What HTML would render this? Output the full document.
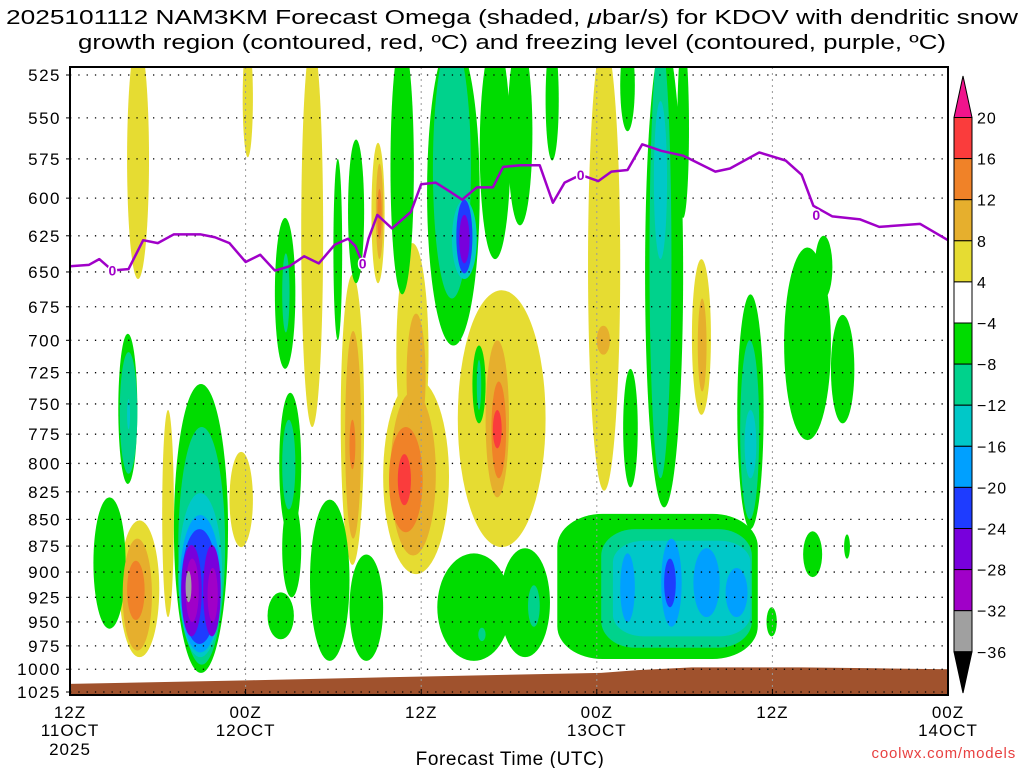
<!DOCTYPE html>
<html><head><meta charset="utf-8"><style>
body{margin:0;background:#fff;}
svg{display:block;font-family:"Liberation Sans","DejaVu Sans",sans-serif;}
</style></head><body>
<svg id="chart" width="1024" height="768" viewBox="0 0 1024 768">
<text x="6" y="24" font-size="20" textLength="1012" lengthAdjust="spacingAndGlyphs">2025101112 NAM3KM Forecast Omega (shaded, <tspan font-style="italic">μ</tspan>bar/s) for KDOV with dendritic snow</text>
<text x="78" y="49" font-size="20" textLength="868" lengthAdjust="spacingAndGlyphs">growth region (contoured, red, ºC) and freezing level (contoured, purple, ºC)</text>
<g id="plot"></g>
<text x="510" y="765" text-anchor="middle" font-size="19" letter-spacing="0.6">Forecast Time (UTC)</text>
<text x="1016" y="758" text-anchor="end" font-size="15" fill="#e84040" letter-spacing="0.8">coolwx.com/models</text>
</svg>
<script>
const levels=[525,550,575,600,625,650,675,700,725,750,775,800,825,850,875,900,925,950,975,1000,1025];
const xTickHours=[0,12,24,36,48,60];
const xTickLine1=["12Z","00Z","12Z","00Z","12Z","00Z"];
const xTickLine2=["11OCT","12OCT","","13OCT","","14OCT"];
const cbLevels=[20,16,12,8,4,-4,-8,-12,-16,-20,-24,-28,-32,-36];
// features: time start/end (h from 12Z 11 Oct), top/bottom pressure (mb), omega value
const fT0=[3.9,3.3,1.6,3.4,3.9,3.4,3.6,3.9,6.3,7.1,7.4,7.4,7.5,7.6,7.6,9.1,7.9,9.4,7.9,10.9,11.8,14.0,14.5,15.8,14.3,14.5,14.5,13.5,16.4,19.1,18.0,19.0,20.6,20.9,21.0,21.9,18.5,18.8,19.1,21.4,21.9,21.8,22.4,24.4,24.8,26.1,26.4,26.6,28.0,27.5,27.8,26.5,28.4,28.8,28.9,25.1,27.9,29.9,32.5,35.4,36.0,37.6,39.3,39.6,39.9,41.5,42.5,42.9,45.6,45.8,46.1,37.8,33.3,36.3,37.1,37.6,40.4,42.6,44.8,40.6,29.4,31.3,48.8,50.9,52.0,50.1,52.9,47.6,22.3,23.0];
const fT1=[5.4,4.6,3.8,4.6,4.1,6.1,5.6,5.1,7.1,10.8,10.6,10.4,10.3,10.1,9.0,10.3,8.8,10.1,8.3,12.5,12.5,15.4,15.0,17.3,15.8,15.4,15.8,15.3,19.1,21.4,18.6,20.1,21.5,21.4,21.3,23.5,20.1,19.9,19.5,25.9,25.0,24.1,23.3,28.0,27.4,27.8,27.5,27.3,30.1,28.4,28.1,32.5,30.0,29.8,29.5,30.1,28.4,31.6,33.4,37.6,36.9,38.6,41.9,41.1,40.8,42.3,43.8,43.5,47.4,47.1,46.9,38.8,47.0,46.6,46.5,38.6,41.8,44.4,46.3,41.4,32.8,32.1,52.0,52.1,53.6,51.4,53.3,48.3,24.5,24.3];
const fP0=[505,695,830,709,746,851,868,889,755,734,769,826,846,859,874,874,887,896,899,790,505,613,637,505,741,763,832,920,832,883,575,563,565,578,594,505,652,693,763,730,740,769,792,505,505,601,601,611,505,704,715,663,700,732,755,882,956,505,505,505,689,505,505,505,540,505,641,669,666,700,755,722,845,859,870,882,868,877,896,887,877,913,633,625,681,861,864,935,630,680];
const fP1=[655,818,957,809,771,987,980,948,945,1004,995,987,982,973,965,965,950,950,930,876,574,722,694,769,866,841,925,968,991,991,700,658,658,641,627,666,893,868,805,902,884,862,837,704,669,655,651,644,641,766,755,876,830,813,787,991,970,618,576,824,711,558,839,813,641,613,759,740,859,850,813,821,989,977,965,950,955,945,945,935,987,955,780,669,766,905,887,965,800,780];
const fVal=[5,-6,-6,-10,-14,5,10,14,5,-6,-10,-14,-18,-22,-26,-26,-30,-30,-34,5,5,-6,-10,5,-6,-10,-6,-6,-6,-6,-6,-6,5,10,14,-6,5,10,14,5,10,14,18,-6,-10,-14,-22,-26,-6,-6,-10,5,10,14,18,-6,-10,-6,-6,5,10,-6,-6,-10,-14,-6,5,10,-6,-10,-14,-6,-6,-10,-14,-18,-18,-18,-18,-22,-6,-10,-6,-6,-6,-6,-6,-6,5,10];
const fRound=fVal.map((v,i)=>(i===72||i===73||i===74)?0.45:1);
// freezing level
const flTime=[0,1.3,2.0,2.9,4.0,5.0,6.0,7.1,8.9,9.9,10.9,12.0,13.0,14.0,15.0,16.0,17.0,18.1,19.0,19.5,20.0,20.4,21.0,22.0,23.3,24.0,25.0,26.0,26.8,27.8,28.9,29.6,30.8,32.1,33.0,33.8,34.9,36.1,37.0,38.1,39.1,40.4,41.9,44.1,45.1,47.1,48.9,50.0,50.8,52.1,54.0,55.3,58.1,60];
const flPres=[646,645,641,649,648,628,630,624,624,626,630,643,638,649,646,639,644,631,627,632,644,627,611,620,609,591,590,596,601,593,593,580,579,579,603,590,585,589,583,582,566,570,573,583,581,571,576,585,605,612,614,619,617,628];
const flLabelTime=[2.9,20.0,34.9,51.0];
const flLabelPres=[649,644,585,611];
// ground surface
const gTime=[0,12.5,23.8,36.3,38.8,42.5,50,55,60];
const gPres=[1016,1012,1008,1004,1001,998,998,999,1000];

const X0=70,X1=948,Y0=75,Y1=692,HSPAN=60;
const lnTop=Math.log(525),lnBot=Math.log(1025);
function xS(h){return X0+h*(X1-X0)/HSPAN;}
function yS(p){return Y0+(Math.log(p)-lnTop)/(lnBot-lnTop)*(Y1-Y0);}
function col(v){
 if(v>20)return"#f0148c";if(v>16)return"#fa3c3c";if(v>12)return"#f08228";if(v>8)return"#e6af2d";if(v>4)return"#e6dc32";
 if(v>-4)return"#ffffff";if(v>-8)return"#00dc00";if(v>-12)return"#00d28c";if(v>-16)return"#00c8c8";if(v>-20)return"#00a0ff";
 if(v>-24)return"#1e3cff";if(v>-28)return"#7800dc";if(v>-32)return"#a000c8";if(v>-36)return"#a0a0a0";return"#000";}
const NS="http://www.w3.org/2000/svg";
const plot=document.getElementById('plot');
function mk(t,a,parent){const e=document.createElementNS(NS,t);for(const k in a)e.setAttribute(k,a[k]);(parent||plot).appendChild(e);return e;}
const clip=mk('clipPath',{id:'pc'});mk('rect',{x:X0,y:67,width:X1-X0,height:Y1-67+2},clip);
const shade=mk('g',{'clip-path':'url(#pc)'});


const order=fVal.map((v,i)=>i).sort((a,b)=>Math.abs(fVal[a])-Math.abs(fVal[b]));
order.forEach(i=>{
 const x0=xS(fT0[i]),x1=xS(fT1[i]),y0=yS(fP0[i]),y1=yS(fP1[i]);
 const w=x1-x0,h=y1-y0,r=fRound[i];
 const e=mk('rect',{x:x0,y:y0,width:w,height:h,rx:w/2*r,ry:h/2*r,fill:col(fVal[i])},shade);
 
 
});
// ground
let gd='M'+xS(gTime[0])+','+(Y1+2);
gTime.forEach((t,i)=>{gd+=' L'+xS(t)+','+yS(gPres[i]);});
gd+=' L'+xS(HSPAN)+','+(Y1+2)+' Z';
const gr=mk('path',{d:gd,fill:'#a0522d'});


// grid
levels.forEach(p=>{
 const l=mk('line',{x1:X0,x2:X1,y1:yS(p),y2:yS(p),stroke:'#000','stroke-width':1.3,'stroke-dasharray':'1.3 7'});
 
 
 const t=mk('text',{x:61,y:yS(p)+6,'text-anchor':'end','font-size':17,fill:'#000','letter-spacing':1.5});
 t.textContent=p;
 
 
 mk('line',{x1:X0-4,x2:X0,y1:yS(p),y2:yS(p),stroke:'#000'});
});
xTickHours.forEach((h,i)=>{
 if(h>0&&h<HSPAN){const v=mk('line',{x1:xS(h),x2:xS(h),y1:67,y2:Y1,stroke:'#999','stroke-width':1,'stroke-dasharray':'2 4'});
 
 }
 mk('line',{x1:xS(h),x2:xS(h),y1:Y1+3,y2:Y1-3,stroke:'#000'});
 const t1=mk('text',{x:xS(h),y:718,'text-anchor':'middle','font-size':17,'letter-spacing':1});
 t1.textContent=xTickLine1[i];
 
 
 if(xTickLine2[i]){const t2=mk('text',{x:xS(h),y:736,'text-anchor':'middle','font-size':17,'letter-spacing':1});t2.textContent=xTickLine2[i];
 
 }
});
const ty=mk('text',{x:xS(0),y:755,'text-anchor':'middle','font-size':17,'letter-spacing':1});ty.textContent="2025";


// freezing level
const fl=mk('polyline',{points:flTime.map((t,i)=>xS(t)+','+yS(flPres[i])).join(' '),fill:'none',stroke:'#a000c8','stroke-width':2.5,'stroke-linejoin':'round'});


flLabelTime.forEach((t,i)=>{
 const lb=mk('text',{x:xS(t),y:yS(flLabelPres[i])+5,'text-anchor':'middle','font-size':14,'font-weight':'bold',fill:'#a000c8',stroke:'#fff','stroke-width':3,'paint-order':'stroke'});
 lb.textContent='0';
 
 
});
// frame
const fr=mk('rect',{x:X0,y:67,width:X1-X0,height:Y1+3-67,fill:'none',stroke:'#000','stroke-width':2});


// colorbar
const cb=mk('g',{});


const cbX=954,cbW=18,cbTop=117.5,cbStep=41.1;
const up=mk('polygon',{points:`${cbX},${cbTop} ${cbX+cbW},${cbTop} ${cbX+cbW/2},76`,fill:col(24),stroke:'#000'},cb);


for(let i=0;i<cbLevels.length-1;i++){
 const mid=(cbLevels[i]+cbLevels[i+1])/2;
 const r=mk('rect',{x:cbX,y:cbTop+i*cbStep,width:cbW,height:cbStep,fill:col(mid-0.01),stroke:'#000','stroke-width':1},cb);
 
 
}
const bot=cbTop+(cbLevels.length-1)*cbStep;
const dn=mk('polygon',{points:`${cbX},${bot} ${cbX+cbW},${bot} ${cbX+cbW/2},693`,fill:'#000',stroke:'#000'},cb);


cbLevels.forEach((v,i)=>{
 const t=mk('text',{x:977,y:cbTop+i*cbStep+6,'font-size':16,'letter-spacing':1},cb);
 t.textContent=v<0?'\u2212'+(-v):String(v);
 
 
});
</script>
</body></html>
